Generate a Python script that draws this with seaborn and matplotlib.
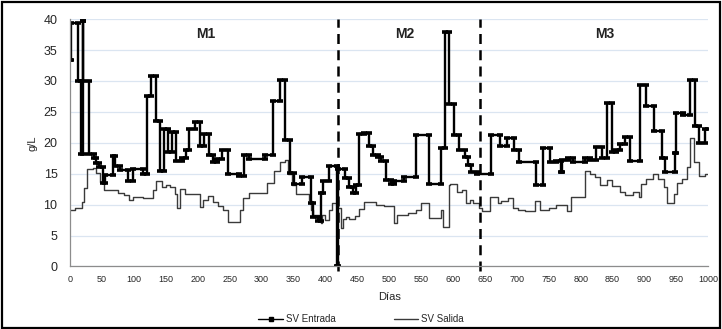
import matplotlib
matplotlib.use("Agg")
import matplotlib.pyplot as plt
import numpy as np
import pandas as pd
import seaborn as sns
from matplotlib.lines import Line2D
from matplotlib.patches import Rectangle
from matplotlib.ticker import MultipleLocator

# SV Entrada: day where each level starts and its value (g/L); last level runs to END_DAY
ent_days = [0, 2, 12, 17, 20, 21, 29, 37, 41, 46, 52, 55, 67, 71, 78, 91, 99, 114, 120,
            127, 134, 141, 147, 154, 160, 166, 175, 182, 187, 196, 204, 210, 217, 224,
            230, 238, 248, 265, 272, 280, 306, 318, 329, 337, 345, 351, 364, 377, 380,
            388, 393, 397, 405, 418, 420, 431, 437, 443, 448, 452, 461, 468, 474, 482,
            487, 495, 503, 508, 524, 542, 563, 582, 588, 594, 601, 609, 619, 624, 629,
            637, 659, 674, 685, 696, 703, 730, 741, 752, 761, 769, 771, 780, 788, 807,
            815, 824, 834, 842, 849, 856, 862, 869, 878, 893, 903, 915, 927, 932, 948,
            950, 960, 972, 979, 985, 995]
ent_vals = [33.4, 39.3, 30.0, 18.2, 39.7, 30.0, 18.2, 17.6, 16.7, 16.1, 13.5, 14.8, 17.9,
            16.2, 15.6, 13.9, 15.7, 15.0, 27.6, 30.8, 23.6, 15.4, 22.3, 18.5, 21.8, 17.0,
            17.6, 18.9, 22.3, 23.3, 19.5, 21.5, 18.1, 16.9, 17.4, 18.8, 15.0, 14.6, 18.0,
            17.3, 18.0, 26.7, 30.1, 20.4, 15.1, 13.4, 14.5, 10.2, 8.0, 7.4, 11.9, 13.8,
            16.3, 0.0, 15.7, 14.3, 12.9, 11.9, 13.1, 21.4, 21.6, 19.5, 18.1, 17.7, 17.0,
            14.0, 13.3, 13.8, 14.5, 21.2, 13.4, 19.1, 37.9, 26.2, 21.2, 18.8, 17.7, 16.4,
            15.3, 15.0, 21.2, 19.4, 20.7, 18.8, 16.9, 13.1, 19.1, 16.9, 17.1, 15.3, 17.2,
            17.6, 16.9, 17.6, 17.2, 19.3, 17.6, 26.5, 18.5, 18.9, 19.8, 20.9, 17.0, 29.3,
            25.9, 21.9, 17.6, 15.2, 18.3, 24.8, 24.5, 30.2, 22.7, 20.0, 22.3]

# SV Salida
sal_days = [0, 8, 18, 22, 27, 36, 41, 47, 54, 75, 84, 92, 98, 115, 130, 134, 144, 151,
            157, 165, 167, 173, 180, 204, 209, 216, 224, 232, 240, 248, 266, 271, 281,
            308, 319, 329, 337, 342, 348, 354, 374, 377, 381, 390, 393, 395, 400, 405,
            410, 418, 424, 427, 432, 437, 447, 452, 460, 479, 492, 508, 512, 530, 542,
            550, 563, 582, 585, 593, 596, 606, 614, 620, 627, 632, 640, 645, 658, 670,
            675, 686, 694, 702, 713, 729, 737, 750, 761, 779, 785, 807, 815, 822, 830,
            842, 849, 862, 869, 882, 891, 895, 903, 913, 922, 930, 935, 946, 951, 959,
            967, 972, 978, 985, 995]
sal_vals = [9.2, 9.5, 10.4, 12.7, 15.7, 16.0, 15.1, 13.6, 12.3, 11.9, 11.5, 10.8, 11.2,
            11.0, 12.3, 13.8, 12.9, 13.1, 12.8, 11.7, 9.4, 12.6, 11.7, 9.6, 10.7, 11.4,
            10.4, 9.7, 9.1, 7.2, 9.1, 11.0, 11.9, 13.5, 15.4, 16.9, 17.2, 15.0, 13.1,
            11.7, 10.7, 9.1, 8.4, 7.6, 7.1, 8.4, 7.5, 9.2, 10.2, 9.5, 6.2, 7.6, 8.0, 7.6,
            8.2, 9.3, 10.4, 10.0, 9.7, 7.0, 8.3, 8.6, 9.1, 10.2, 7.9, 9.1, 6.4, 13.1,
            13.4, 12.0, 12.3, 10.2, 10.7, 10.2, 9.4, 8.9, 11.2, 10.2, 10.6, 11.0, 9.4,
            9.1, 8.9, 10.6, 9.2, 9.4, 10.0, 8.9, 11.2, 15.4, 15.0, 14.5, 13.1, 14.0,
            13.0, 12.0, 11.5, 12.0, 11.2, 13.3, 14.2, 15.0, 14.2, 12.8, 10.3, 11.8,
            13.5, 14.2, 16.1, 20.8, 16.9, 14.6, 15.0]

END_DAY = 1000
phase_limits = [420, 643]
phase_names = ["M1", "M2", "M3"]
phase_label_x = [212, 525, 838]


def step_frame(days, vals):
    # each level becomes two vertices: its start and its end
    ends = days[1:] + [END_DAY]
    x = np.ravel(np.column_stack([days, ends]))
    y = np.repeat(vals, 2)
    return pd.DataFrame({"dia": x, "gl": y})


sns.set_style("white")
plt.rcParams["font.family"] = ["Liberation Sans", "DejaVu Sans"]

fig = plt.figure(figsize=(7.22, 3.29), dpi=100)
ax = fig.add_axes([0.097, 0.19, 0.884, 0.752])

ent = step_frame(ent_days, ent_vals)
sal = step_frame(sal_days, sal_vals)

sns.lineplot(data=sal, x="dia", y="gl", ax=ax, sort=False, estimator=None,
             color="#3a3a3a", linewidth=1.0)
sns.lineplot(data=ent, x="dia", y="gl", ax=ax, sort=False, estimator=None,
             color="black", linewidth=1.7, marker="_", markersize=5,
             markeredgewidth=2.6, markeredgecolor="black")

for xv in phase_limits:
    ax.axvline(xv, ymin=-0.02, ymax=1.0, color="black", linewidth=1.8,
               linestyle=(0, (4, 2.5)), clip_on=False)

for name, xl in zip(phase_names, phase_label_x):
    ax.text(xl, 37.6, name, ha="center", va="center", fontsize=10,
            fontweight="bold", color="#222222")

ax.set_xlim(0, 1000)
ax.set_ylim(0, 40)
ax.xaxis.set_major_locator(MultipleLocator(50))
ax.xaxis.set_minor_locator(MultipleLocator(10))
ax.yaxis.set_major_locator(MultipleLocator(5))
ax.grid(axis="y", color="#dbe5f1", linewidth=0.9)
ax.set_axisbelow(True)

for side in ["top", "right"]:
    ax.spines[side].set_visible(False)
for side in ["left", "bottom"]:
    ax.spines[side].set_color("#8c8c8c")
    ax.spines[side].set_linewidth(0.9)

ax.tick_params(axis="x", which="major", direction="inout", length=6, width=0.8,
               color="#8c8c8c", labelsize=6.5, pad=3)
ax.tick_params(axis="x", which="minor", direction="inout", length=4, width=0.7,
               color="#8c8c8c")
ax.tick_params(axis="y", which="major", direction="out", length=4, width=0.8,
               color="#8c8c8c", labelsize=9, pad=5)

ax.set_xlabel("Días", fontsize=8, labelpad=6)
ax.set_ylabel("g/L", fontsize=8, labelpad=4)

handles = [
    Line2D([], [], color="black", linewidth=1.0, marker="s", markersize=2.5),
    Line2D([], [], color="#3a3a3a", linewidth=1.0),
]
fig.legend(handles, ["SV Entrada", "SV Salida"], loc="center",
           bbox_to_anchor=(0.5, 0.03), ncol=2, frameon=False, fontsize=7,
           handlelength=2.5, columnspacing=6, handletextpad=0.3)

fig.patches.append(Rectangle((0.003, 0.004), 0.994, 0.99, transform=fig.transFigure,
                             fill=False, edgecolor="black", linewidth=1.6))

fig.savefig("out.png", dpi=100)
